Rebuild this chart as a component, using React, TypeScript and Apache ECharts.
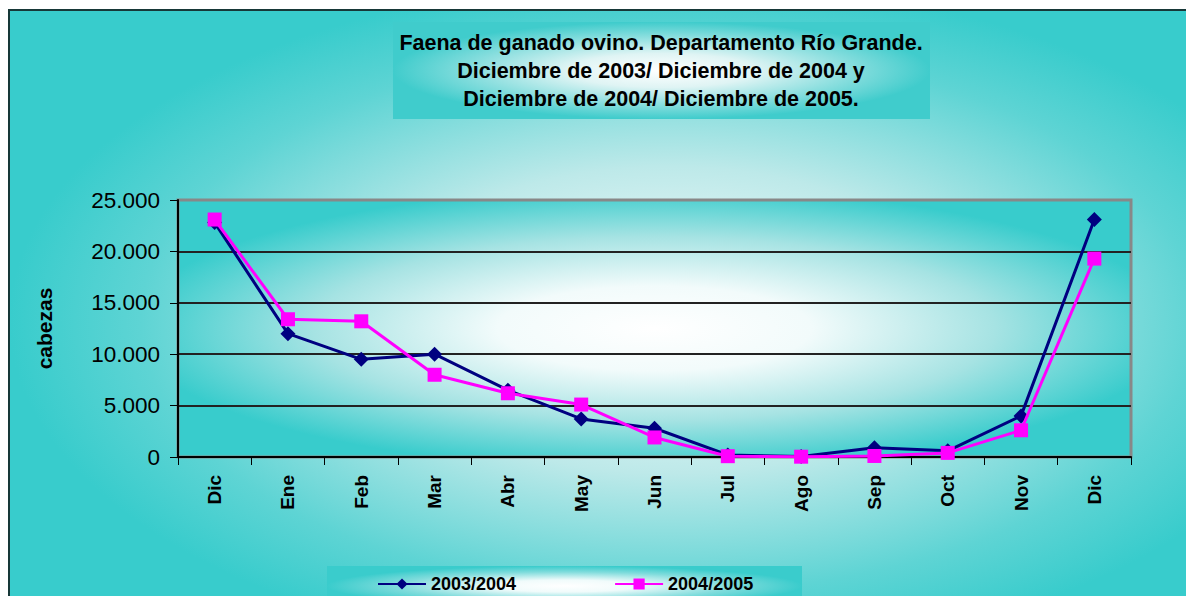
import React, { useEffect, useRef } from "react";
import * as echarts from "echarts";

const categories = ["Dic", "Ene", "Feb", "Mar", "Abr", "May", "Jun", "Jul", "Ago", "Sep", "Oct", "Nov", "Dic"];
const serie2003 = [22800, 12000, 9500, 10000, 6500, 3700, 2800, 200, 50, 900, 600, 4000, 23100];
const serie2004 = [23100, 13400, 13200, 8000, 6200, 5100, 1900, 80, 30, 100, 400, 2600, 19300];
const seriesNames = ["2003/2004", "2004/2005"];
const titleLines = [
  "Faena de ganado ovino. Departamento Río Grande.",
  "Diciembre de 2003/ Diciembre de 2004 y",
  "Diciembre de 2004/ Diciembre de 2005.",
];
const yAxisName = "cabezas";

const FONT = "Arial, 'Liberation Sans', sans-serif";

function fmt(v: number) {
  return String(v).replace(/\B(?=(\d{3})+(?!\d))/g, ".");
}

export default function App() {
  const ref = useRef<HTMLDivElement>(null);
  useEffect(() => {
    if (!ref.current) return;
    const chart = echarts.init(ref.current, undefined, { renderer: "svg" });
    const radial = (stops: [number, string][], x = 0.5, y = 0.5, r = 0.5) => ({
      type: "radial",
      x,
      y,
      r,
      colorStops: stops.map(([offset, color]) => ({ offset, color })),
    });
    chart.setOption({
      animation: false,
      graphic: [
        {
          type: "rect",
          z: -100,
          shape: { x: 9, y: 10, width: 1200, height: 620 },
          style: {
            fill: radial([
              [0, "#ffffff"],
              [0.45, "#bde9e9"],
              [0.8, "#5ed4d4"],
              [1, "#38cccc"],
            ], 0.55, 0.5, 0.55),
            stroke: "#173838",
            lineWidth: 2,
          },
        },
        {
          type: "rect",
          z: -50,
          shape: { x: 393, y: 22, width: 537, height: 97 },
          style: {
            fill: radial([
              [0, "#ffffff"],
              [0.35, "#dff4f4"],
              [0.75, "#7ddbdb"],
              [1, "#40cccc"],
            ]),
          },
        },
        {
          type: "text",
          z: 10,
          x: 661,
          y: 29,
          style: {
            text: titleLines.join("\n"),
            font: `bold 21.5px ${FONT}`,
            fill: "#000",
            align: "center",
            verticalAlign: "top",
            lineHeight: 28,
          },
        },
        {
          type: "rect",
          z: -50,
          shape: { x: 327, y: 566, width: 475, height: 40 },
          style: {
            fill: radial([
              [0, "#ffffff"],
              [0.3, "#f0fbfb"],
              [0.7, "#80dcdc"],
              [1, "#3acccc"],
            ]),
          },
        },
      ],
      grid: {
        left: 178,
        right: 55,
        top: 200,
        bottom: 139,
        show: true,
        borderColor: "#888888",
        borderWidth: 3,
        backgroundColor: radial([
          [0, "#ffffff"],
          [0.3, "#f2fbfb"],
          [0.65, "#a6e3e3"],
          [1, "#38cccc"],
        ], 0.5, 0.5, 0.55),
      },
      legend: {
        left: 372,
        top: 570,
        itemWidth: 48,
        itemHeight: 14,
        itemGap: 98,
        data: seriesNames,
        textStyle: { fontFamily: FONT, fontWeight: "bold", fontSize: 18, color: "#000" },
      },
      xAxis: {
        type: "category",
        data: categories,
        boundaryGap: true,
        axisLine: { lineStyle: { color: "#000", width: 2 } },
        axisTick: { show: true, length: 8, lineStyle: { color: "#000" } },
        axisLabel: {
          rotate: 90,
          margin: 18,
          interval: 0,
          fontFamily: FONT,
          fontWeight: "bold",
          fontSize: 19,
          color: "#000",
        },
        splitLine: { show: false },
      },
      yAxis: {
        type: "value",
        min: 0,
        max: 25000,
        interval: 5000,
        name: yAxisName,
        nameLocation: "middle",
        nameRotate: 90,
        nameGap: 123,
        nameTextStyle: { fontFamily: FONT, fontWeight: "bold", fontSize: 21, color: "#000" },
        axisLine: { show: true, lineStyle: { color: "#000", width: 2 } },
        axisTick: { show: true, length: 8, lineStyle: { color: "#000" } },
        axisLabel: {
          margin: 18,
          fontFamily: FONT,
          fontSize: 22.5,
          color: "#000",
          formatter: (v: number) => fmt(v),
        },
        splitLine: {
          show: true,
          showMaxLine: false,
          showMinLine: false,
          lineStyle: { color: "#222", width: 2 },
        },
      },
      series: [
        {
          name: seriesNames[0],
          type: "line",
          data: serie2003,
          symbol: "diamond",
          symbolSize: 15,
          itemStyle: { color: "#000080" },
          lineStyle: { color: "#000080", width: 3 },
          z: 3,
        },
        {
          name: seriesNames[1],
          type: "line",
          data: serie2004,
          symbol: "rect",
          symbolSize: 14,
          itemStyle: { color: "#ff00ff" },
          lineStyle: { color: "#ff00ff", width: 3 },
          z: 4,
        },
      ],
    });
    return () => chart.dispose();
  }, []);
  return (
    <div
      ref={ref}
      style={{ position: "absolute", left: 0, top: 0, width: 1186, height: 596 }}
    />
  );
}
